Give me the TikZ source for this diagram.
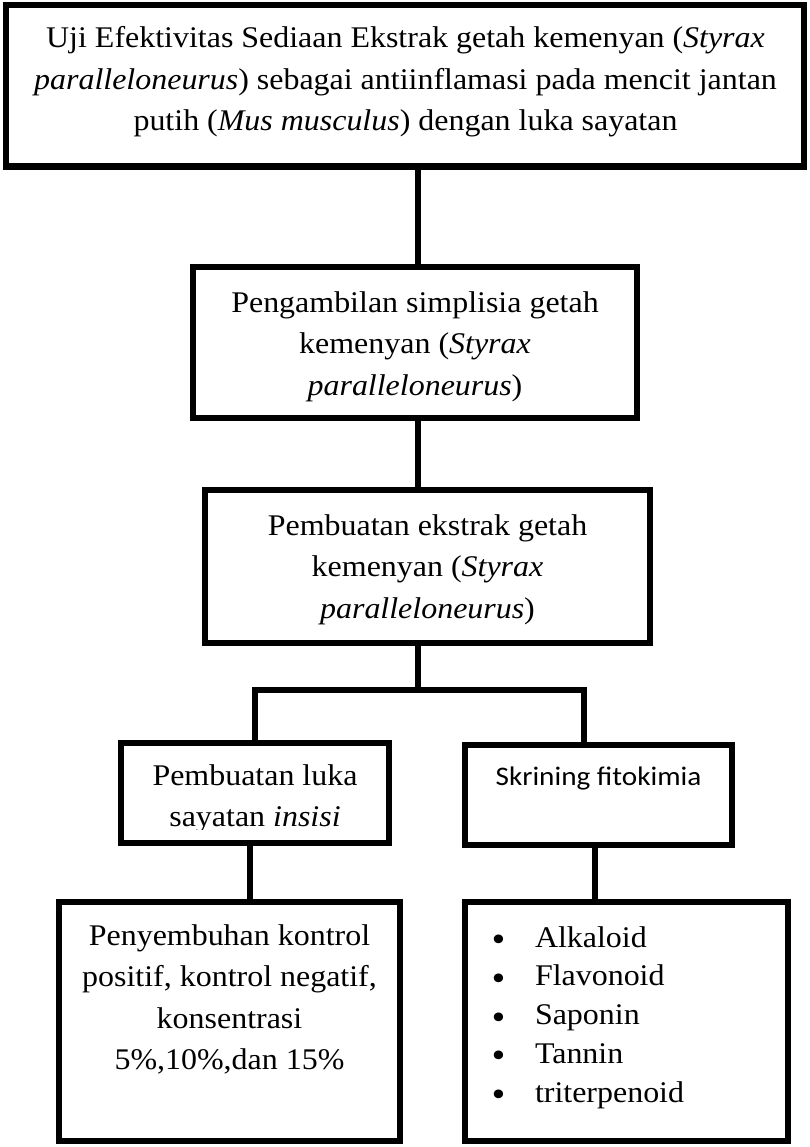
\documentclass[tikz,border=0pt]{standalone}
\usepackage{fontspec}
\setmainfont{Liberation Serif}
\newfontfamily\calfont{Carlito}
\newfontfamily\djv{DejaVu Sans}
\usepackage{graphicx}
\newcommand\sx[1]{\scalebox{1.065}[1]{#1}}
\newcommand\bul{\makebox[43pt][l]{\raisebox{-0.12em}{\djv\symbol{"2022}}}}
\tikzset{
  box/.style={draw, line width=6.7pt, rectangle, inner sep=0pt, line join=miter},
  conn/.style={line width=6.7pt, line join=miter},
  txt/.style={inner sep=0pt, font=\fontsize{30}{41.5}\selectfont},
}
\begin{document}
\begin{tikzpicture}[x=1pt,y=-1pt]
\useasboundingbox (0,0) rectangle (809,1147);
% boxes
\node[box, minimum width=798pt, minimum height=161.5pt] (top) at (405,85.75) {};
\node[box, minimum width=444pt, minimum height=151pt] (b2) at (415,342.5) {};
\node[box, minimum width=445pt, minimum height=153pt] (b3) at (427.5,566.5) {};
\node[box, minimum width=268pt, minimum height=100pt] (bL) at (255,793) {};
\node[box, minimum width=267pt, minimum height=100pt] (bR) at (598.5,795) {};
\node[box, minimum width=341pt, minimum height=239pt] (pL) at (229.5,1021.5) {};
\node[box, minimum width=323pt, minimum height=239pt] (pR) at (626.5,1021.5) {};
% texts
\node[txt] (ttop) at (405.5,81) {\sx{\begin{tabular}{@{}c@{}}Uji Efektivitas Sediaan Ekstrak getah kemenyan (\textit{Styrax}\\\textit{paralleloneurus}) sebagai antiinflamasi pada mencit jantan\\putih (\textit{Mus musculus}) dengan luka sayatan\end{tabular}}};
\node[txt] (tb2) at (415,345.3) {\sx{\begin{tabular}{@{}c@{}}Pengambilan simplisia getah\\kemenyan (\textit{Styrax}\\\textit{paralleloneurus})\end{tabular}}};
\node[txt] (tb3) at (427.5,568.3) {\sx{\begin{tabular}{@{}c@{}}Pembuatan ekstrak getah\\kemenyan (\textit{Styrax}\\\textit{paralleloneurus})\end{tabular}}};
\begin{scope}
\clip (121,743) rectangle (389,829);
\node[txt] (tbL) at (255,797.5) {\sx{\begin{tabular}{@{}c@{}}Pembuatan luka\\sayatan \textit{insisi}\end{tabular}}};
\end{scope}
\node[inner sep=0pt, anchor=base, font=\calfont\fontsize{26.8}{32}\selectfont] (tbR) at (598.5,785) {\scalebox{1.09}[1]{Skrining fitokimia}};
\node[txt] (tpL) at (229.5,999) {\sx{\begin{tabular}{@{}c@{}}Penyembuhan kontrol\\positif, kontrol negatif,\\konsentrasi\\5\%,10\%,dan 15\%\end{tabular}}};
\node[txt, anchor=west] (tpR) at (489,1016.8) {\sx{\fontsize{30}{38.75}\selectfont\begin{tabular}{@{}l@{}l@{}}\bul&Alkaloid\\\bul&Flavonoid\\\bul&Saponin\\\bul&Tannin\\\bul&triterpenoid\end{tabular}}};
% connectors
\coordinate (ca) at (418,0);
\coordinate (jl) at (255,690);
\coordinate (jm) at (418,690);
\coordinate (jr) at (584,690);
\coordinate (cl) at (250,0);
\coordinate (cr) at (595,0);
\draw[conn] (top.south -| ca) -- (b2.north -| ca);
\draw[conn] (b2.south -| ca) -- (b3.north -| ca);
\draw[conn] (b3.south -| ca) -- (jm);
\draw[conn] (bL.north -| jl) -- (jl) -- (jr) -- (bR.north -| jr);
\draw[conn] (bL.south -| cl) -- (pL.north -| cl);
\draw[conn] (bR.south -| cr) -- (pR.north -| cr);
\end{tikzpicture}
\end{document}
